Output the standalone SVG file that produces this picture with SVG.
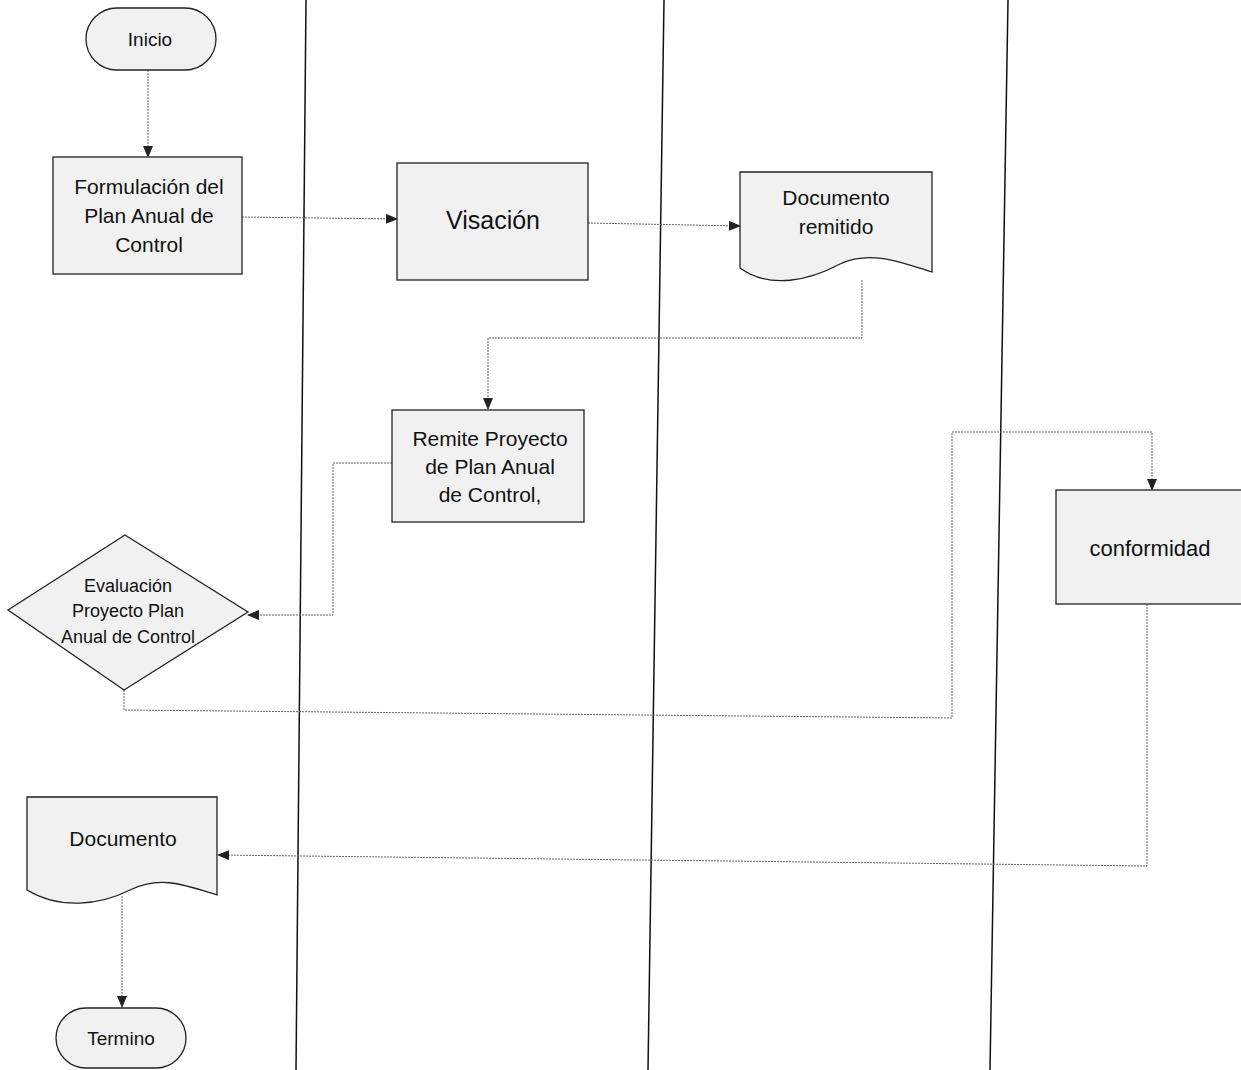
<svg xmlns="http://www.w3.org/2000/svg" width="1241" height="1070" viewBox="0 0 1241 1070">
<style>
.node{fill:#f1f1f1;stroke:#222;stroke-width:1.3}
.t{font-family:"Liberation Sans",Arial,sans-serif;fill:#111;text-anchor:middle}
.c{fill:none;stroke:#666;stroke-width:1;stroke-dasharray:2 1}
.lane{stroke:#111;stroke-width:1.5}
</style>
<defs>
<marker id="ah" markerWidth="12" markerHeight="10" refX="11" refY="5" orient="auto" markerUnits="userSpaceOnUse">
<path d="M0,0 L12,5 L0,10 z" fill="#222"/>
</marker>
</defs>
<rect width="1241" height="1070" fill="#fff"/>
<g id="lanes">
<line class="lane" x1="306" y1="0" x2="296" y2="1070"/>
<line class="lane" x1="664" y1="0" x2="648" y2="1070"/>
<line class="lane" x1="1008" y1="0" x2="990" y2="1070"/>
</g>
<g id="connectors">
<path class="c" d="M148,70 L148,157" marker-end="url(#ah)"/>
<path class="c" d="M242,217 L397,219" marker-end="url(#ah)"/>
<path class="c" d="M588,223 L740,226" marker-end="url(#ah)"/>
<path class="c" d="M862,280 L862,338 L488,338 L488,409" marker-end="url(#ah)"/>
<path class="c" d="M392,463 L333,463 L333,615 L248,615" marker-end="url(#ah)"/>
<path class="c" d="M124,690 L124,710 L952,718 L952,432 L1152,432 L1152,490" marker-end="url(#ah)"/>
<path class="c" d="M1147,604 L1147,866 L218,855" marker-end="url(#ah)"/>
<path class="c" d="M122,896 L122,1007" marker-end="url(#ah)"/>
</g>
<g id="inicio">
<rect class="node" x="86" y="8" width="130" height="62" rx="31"/>
<text class="t" x="150" y="46" font-size="19">Inicio</text>
</g>
<g id="formulacion">
<rect class="node" x="53" y="157" width="189" height="117"/>
<text class="t" x="149" y="194" font-size="21">Formulación del</text>
<text class="t" x="149" y="223" font-size="21">Plan Anual de</text>
<text class="t" x="149" y="252" font-size="21">Control</text>
</g>
<g id="visacion">
<rect class="node" x="397" y="163" width="191" height="117"/>
<text class="t" x="493" y="229" font-size="25">Visación</text>
</g>
<g id="doc-remitido">
<path class="node" d="M740,172 L932,172 L932,272 C900,262 870,250 840,264 C810,280 770,290 740,268 Z"/>
<text class="t" x="836" y="205" font-size="21">Documento</text>
<text class="t" x="836" y="234" font-size="21">remitido</text>
</g>
<g id="remite">
<rect class="node" x="392" y="410" width="192" height="112"/>
<text class="t" x="490" y="446" font-size="21">Remite Proyecto</text>
<text class="t" x="490" y="474" font-size="21">de Plan Anual</text>
<text class="t" x="490" y="502" font-size="21">de Control,</text>
</g>
<g id="evaluacion">
<path class="node" d="M125,535 L248,612 L124,690 L8,610 Z"/>
<text class="t" x="128" y="592" font-size="18">Evaluación</text>
<text class="t" x="128" y="617" font-size="18">Proyecto Plan</text>
<text class="t" x="128" y="643" font-size="18">Anual de Control</text>
</g>
<g id="conformidad">
<rect class="node" x="1056" y="490" width="200" height="114"/>
<text class="t" x="1150" y="556" font-size="22">conformidad</text>
</g>
<g id="documento">
<path class="node" d="M27,797 L217,797 L217,895 C185,885 160,875 130,890 C100,905 60,910 27,890 Z"/>
<text class="t" x="123" y="846" font-size="21">Documento</text>
</g>
<g id="termino">
<rect class="node" x="56" y="1008" width="130" height="60" rx="30"/>
<text class="t" x="121" y="1045" font-size="19">Termino</text>
</g>
</svg>
